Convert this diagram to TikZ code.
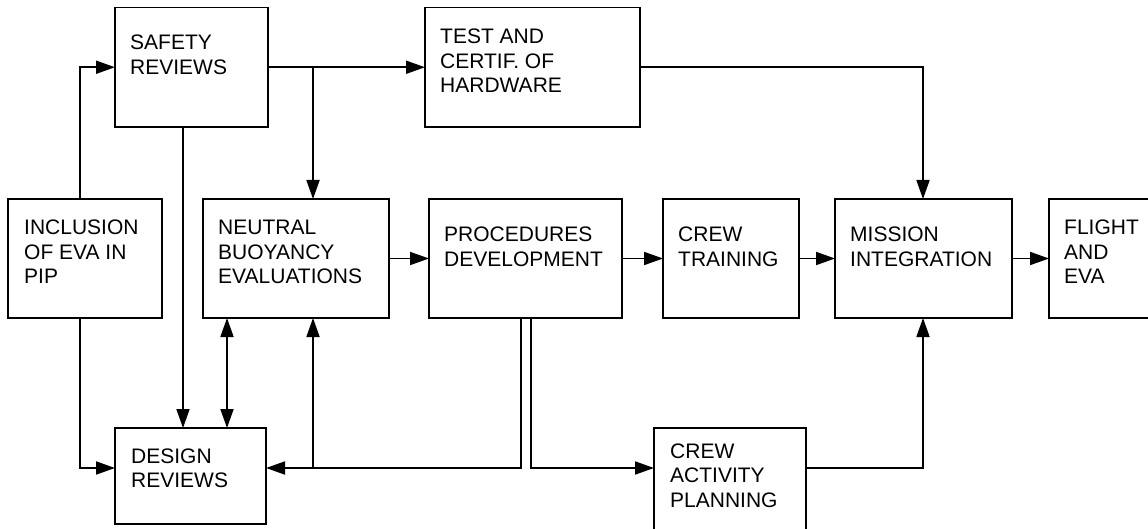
\documentclass[tikz,border=0pt]{standalone}
\usepackage{fontspec}
\setmainfont{Liberation Sans}
\usetikzlibrary{arrows.meta}
\begin{document}
\begin{tikzpicture}[x=1pt,y=-1pt,
  box/.style={draw,line width=1.8pt,anchor=north west,inner sep=0pt,outer sep=0pt},
  txt/.style={anchor=base west,inner sep=0pt,font=\fontsize{21}{24.5}\selectfont},
  arr/.style={line width=1.8pt,-{Triangle[length=19pt,width=13pt]}},
  arrb/.style={line width=1.8pt,{Triangle[length=19pt,width=13pt]}-{Triangle[length=19pt,width=13pt]}},
  ln/.style={line width=1.8pt}]
\useasboundingbox (0,0) rectangle (1148,529);
\clip (0,0) rectangle (1148,529);
% boxes
\node[box,minimum width=154pt,minimum height=119pt] (incl) at (8,199) {};
\node[box,minimum width=153pt,minimum height=119.5pt] (safety) at (115,7.5) {};
\node[box,minimum width=215pt,minimum height=119.5pt] (test) at (425,7.5) {};
\node[box,minimum width=186pt,minimum height=119pt] (nb) at (203,199) {};
\node[box,minimum width=193pt,minimum height=119pt] (proc) at (429,199) {};
\node[box,minimum width=136pt,minimum height=119pt] (train) at (663,199) {};
\node[box,minimum width=177pt,minimum height=119pt] (miss) at (835,199) {};
\node[box,minimum width=150pt,minimum height=119pt] (flight) at (1049,199) {};
\node[box,minimum width=151pt,minimum height=96pt] (design) at (115,428) {};
\node[box,minimum width=152pt,minimum height=130pt] (cap) at (654,428) {};
% texts
\node[txt] (safetyt) at (130,50) {\begin{tabular}[t]{@{}l@{}}SAFETY\\REVIEWS\end{tabular}};
\node[txt] (testt) at (440,44) {\begin{tabular}[t]{@{}l@{}}TEST AND\\CERTIF. OF\\HARDWARE\end{tabular}};
\node[txt] (inclt) at (24,235) {\begin{tabular}[t]{@{}l@{}}INCLUSION\\OF EVA IN\\PIP\end{tabular}};
\node[txt] (nbt) at (218,235) {\begin{tabular}[t]{@{}l@{}}NEUTRAL\\BUOYANCY\\EVALUATIONS\end{tabular}};
\node[txt] (proct) at (444,242) {\begin{tabular}[t]{@{}l@{}}PROCEDURES\\DEVELOPMENT\end{tabular}};
\node[txt] (traint) at (678,242) {\begin{tabular}[t]{@{}l@{}}CREW\\TRAINING\end{tabular}};
\node[txt] (misst) at (850,242) {\begin{tabular}[t]{@{}l@{}}MISSION\\INTEGRATION\end{tabular}};
\node[txt] (flightt) at (1064,235) {\begin{tabular}[t]{@{}l@{}}FLIGHT\\AND\\EVA\end{tabular}};
\node[txt] (designt) at (131,463) {\begin{tabular}[t]{@{}l@{}}DESIGN\\REVIEWS\end{tabular}};
\node[txt] (capt) at (670,458) {\begin{tabular}[t]{@{}l@{}}CREW\\ACTIVITY\\PLANNING\end{tabular}};
% helper coordinates
\coordinate (j1) at (80,0);
\coordinate (b1) at (313,0);
\coordinate (c1) at (923,0);
\coordinate (d1) at (183,0);
\coordinate (d2) at (227,0);
\coordinate (e1) at (521,0);
\coordinate (e2) at (531,0);
\coordinate (h1) at (0,468);
% connectors
\draw[arr] (incl.north -| j1) |- (safety.west);
\draw[arr] (safety) -- (test);
\draw[arr] (safety.east -| b1) -- (nb.north -| b1);
\draw[arr] (test.east) -| (miss.north -| c1);
\draw[arr] (incl.south -| j1) |- (design.west |- h1);
\draw[arr] (safety.south -| d1) -- (design.north -| d1);
\draw[arrb] (nb.south -| d2) -- (design.north -| d2);
\draw[arr] (nb) -- (proc);
\draw[arr] (proc) -- (train);
\draw[arr] (train) -- (miss);
\draw[arr] (miss.east) -- (flight.west |- miss.east);
\draw[arr] (proc.south -| e1) |- (design.east |- h1);
\draw[arr] (h1 -| b1) -- (nb.south -| b1);
\draw[arr] (proc.south -| e2) |- (cap.west |- h1);
\draw[arr] (cap.east |- h1) -| (miss.south -| c1);
\end{tikzpicture}
\end{document}
